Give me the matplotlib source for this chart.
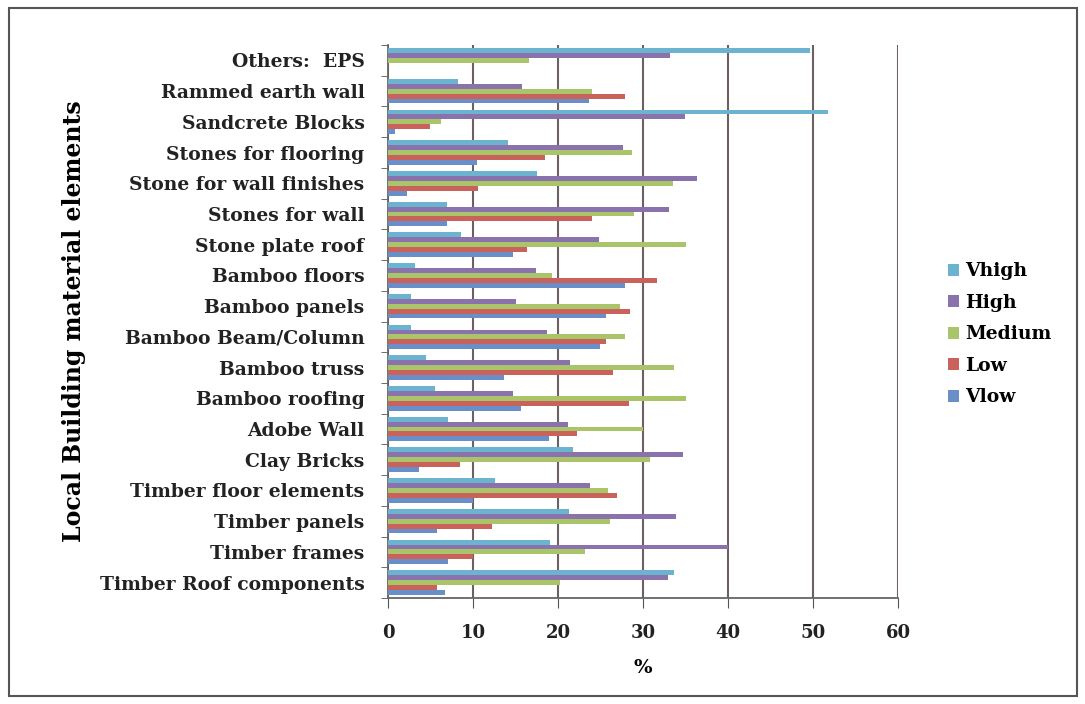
import matplotlib.pyplot as plt
from matplotlib.patches import Rectangle
import numpy as np

# Catégories (de haut en bas) et séries
categories = ['Others:  EPS', 'Rammed earth wall', 'Sandcrete Blocks', 'Stones for flooring',
              'Stone for wall finishes', 'Stones for wall', 'Stone plate roof', 'Bamboo floors',
              'Bamboo panels', 'Bamboo Beam/Column', 'Bamboo truss', 'Bamboo roofing',
              'Adobe Wall', 'Clay Bricks', 'Timber floor elements', 'Timber panels',
              'Timber frames', 'Timber Roof components']

vhigh = [49.6, 8.2, 51.8, 14.1, 17.5, 6.9, 8.6, 3.2, 2.7, 2.7, 4.5, 5.5, 7.1, 21.8, 12.6, 21.3, 19.1, 33.6]
high = [33.2, 15.8, 34.9, 27.7, 36.4, 33.1, 24.8, 17.4, 15.1, 18.7, 21.4, 14.7, 21.2, 34.7, 23.8, 33.9, 40.0, 33.0]
medium = [16.6, 24.0, 6.2, 28.7, 33.5, 28.9, 35.1, 19.3, 27.3, 27.9, 33.6, 35.1, 30.0, 30.8, 25.9, 26.1, 23.2, 20.2]
low = [0, 27.9, 4.9, 18.5, 10.6, 24.0, 16.4, 31.6, 28.5, 25.7, 26.5, 28.4, 22.2, 8.5, 27.0, 12.2, 10.0, 5.8]
vlow = [0, 23.6, 0.8, 10.5, 2.2, 6.9, 14.7, 27.9, 25.7, 24.9, 13.6, 15.7, 18.9, 3.7, 10.0, 5.8, 7.1, 6.7]

series_names = ['Vhigh', 'High', 'Medium', 'Low', 'Vlow']
series_values = [vhigh, high, medium, low, vlow]
colors = ['#6cb3cf', '#8a72ad', '#aac46a', '#c8625a', '#6a8fc8']

fig = plt.figure(figsize=(10.85, 7.04), dpi=100)
ax = fig.add_axes([0.3576, 0.1506, 0.47, 0.7854])

serif = ['DejaVu Serif']
y = np.arange(len(categories))
h = 0.16
for i, (name, vals) in enumerate(zip(series_names, series_values)):
    ax.barh(y - 0.32 + i * h, vals, height=h, color=colors[i], label=name, zorder=3)

ax.set_xlim(0, 60)
ax.set_ylim(len(categories) - 0.5, -0.5)
ax.set_xticks(range(0, 61, 10))
ax.set_xticklabels([str(v) for v in range(0, 61, 10)], family=serif, fontsize=13, fontweight='bold', color='#222222')
ax.set_yticks(y)
ax.set_yticklabels(categories, family=serif, fontsize=13.5, fontweight='bold', color='#222222')
ax.set_yticks(np.arange(-0.5, len(categories), 1), minor=True)
ax.tick_params(axis='y', which='major', length=0, pad=17)
ax.tick_params(axis='y', which='minor', length=5, color='#555555')
ax.tick_params(axis='x', length=7, color='#555555', pad=12)

ax.grid(axis='x', color='#6e5f60', linewidth=1.5, zorder=1)
for s in ['top', 'right']:
    ax.spines[s].set_visible(False)
for s in ['left', 'bottom']:
    ax.spines[s].set_color('#666666')
    ax.spines[s].set_linewidth(1.3)

ax.set_xlabel('%', family=serif, fontsize=14, fontweight='bold', labelpad=12)
ax.set_ylabel('Local Building material elements', family=serif, fontsize=17, fontweight='bold', labelpad=10)

leg = ax.legend(loc='center left', bbox_to_anchor=(1.065, 0.477), frameon=False,
                prop={'family': serif, 'size': 13.5, 'weight': 'bold'},
                handlelength=0.6, handleheight=0.6, handletextpad=0.3, labelspacing=0.72)

fig.patches.append(Rectangle((0.008, 0.012), 0.985, 0.976, transform=fig.transFigure,
                             fill=False, edgecolor='#555555', linewidth=1.5))

fig.savefig('out.png', dpi=100)
